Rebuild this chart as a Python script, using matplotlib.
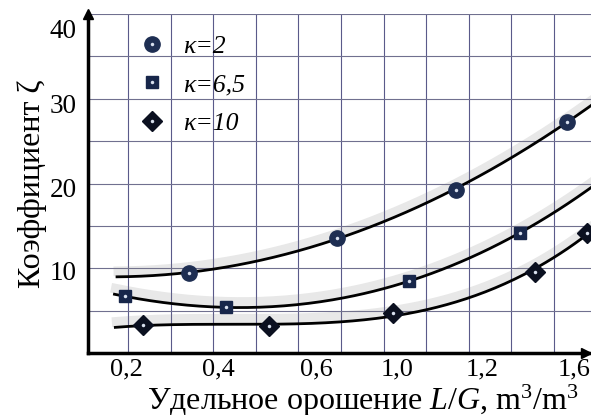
import numpy as np
import matplotlib
matplotlib.use("Agg")
import matplotlib.pyplot as plt
import matplotlib.patheffects as pe
from matplotlib.legend_handler import HandlerTuple

plt.rcParams['font.family'] = ['Liberation Serif', 'DejaVu Serif']
plt.rcParams['mathtext.fontset'] = 'custom'
plt.rcParams['mathtext.rm'] = 'Liberation Serif'
plt.rcParams['mathtext.it'] = 'Liberation Serif:italic'

# data (grid step 0.1 on x, 5 on y)
x_k2 = [0.343, 0.691, 0.970, 1.231]
y_k2 = [9.5, 13.6, 19.3, 27.3]
x_k65 = [0.193, 0.430, 0.860, 1.120]
y_k65 = [6.7, 5.4, 8.5, 14.2]
x_k10 = [0.235, 0.531, 0.822, 1.155, 1.278]
y_k10 = [3.3, 3.2, 4.7, 9.6, 14.2]

series = [
    ('κ=2', x_k2, y_k2, 'o', '#1e2e52', 11, 2),
    ('κ=6,5', x_k65, y_k65, 's', '#17264a', 9, 3),
    ('κ=10', x_k10, y_k10, 'D', '#0b1020', 10, 3),
]
curve_start = [0.174, 0.168, 0.170]

xtick_pos = [0.196, 0.412, 0.642, 0.832, 1.031, 1.248]
xtick_lab = ['0,2', '0,4', '0,6', '1,0', '1,2', '1,6']
ytick_pos = [9.8, 19.5, 29.5, 38.3]
ytick_lab = ['10', '20', '30', '40']

fig = plt.figure(figsize=(5.91, 4.15), dpi=100)
ax = fig.add_axes([0.149, 0.149, 0.851, 0.817])
ax.set_xlim(0.106, 1.287)
ax.set_ylim(0, 40)

# grid
for gx in np.arange(0.2, 1.3, 0.1):
    ax.axvline(gx, color='#5a5a8a', lw=0.8, zorder=1)
for gy in np.arange(5, 41, 5):
    ax.axhline(gy, color='#70708f', lw=0.8, zorder=1)

shadow = [pe.SimpleLineShadow(offset=(1, 4), shadow_color='gray', alpha=0.18, linewidth=7), pe.Normal()]

handles = []
for (lab, xs, ys, mk, col, ms, deg), x0 in zip(series, curve_start):
    coef = np.polyfit(xs, ys, deg)
    xx = np.linspace(x0, 1.3, 200)
    ax.plot(xx, np.polyval(coef, xx), color='black', lw=2.0, zorder=3,
            path_effects=shadow)
    h1, = ax.plot(xs, ys, mk, color=col, mec=col, ms=ms, ls='none', zorder=4)
    h2, = ax.plot(xs, ys, 'o', color='#d8e0ee', mec='none', ms=2.5, ls='none', zorder=5)
    handles.append((h1, h2))

ax.legend(handles, [s[0] for s in series], handler_map={tuple: HandlerTuple(ndivide=1)},
          loc='upper left', bbox_to_anchor=(0.05, 1.008), frameon=False,
          prop={'style': 'italic', 'size': 18.5}, labelspacing=0.62,
          handlelength=1.2, handletextpad=0.6)

# axes
for s in ['top', 'right']:
    ax.spines[s].set_visible(False)
ax.spines['left'].set_linewidth(2.5)
ax.spines['bottom'].set_linewidth(2.5)
ax.plot([0], [1], '^', color='black', ms=7, transform=ax.transAxes, clip_on=False, zorder=6)
ax.plot([0.99], [0], '>', color='black', ms=7, transform=ax.transAxes, clip_on=False, zorder=6)

ax.set_xticks(xtick_pos)
ax.set_xticklabels(xtick_lab, fontsize=19)
ax.set_yticks(ytick_pos)
ax.set_yticklabels(ytick_lab, fontsize=19.5)
ax.tick_params(axis='x', length=0, pad=4)
ax.tick_params(axis='y', length=0, pad=8)

ax.set_xlabel(r'Удельное орошение $L/G$, m$^3$/m$^3$', fontsize=23)
ax.xaxis.set_label_coords(0.547, -0.086)
ax.set_ylabel('Коэффициент ζ', fontsize=23, labelpad=2)

fig.savefig('out.png', dpi=100)
